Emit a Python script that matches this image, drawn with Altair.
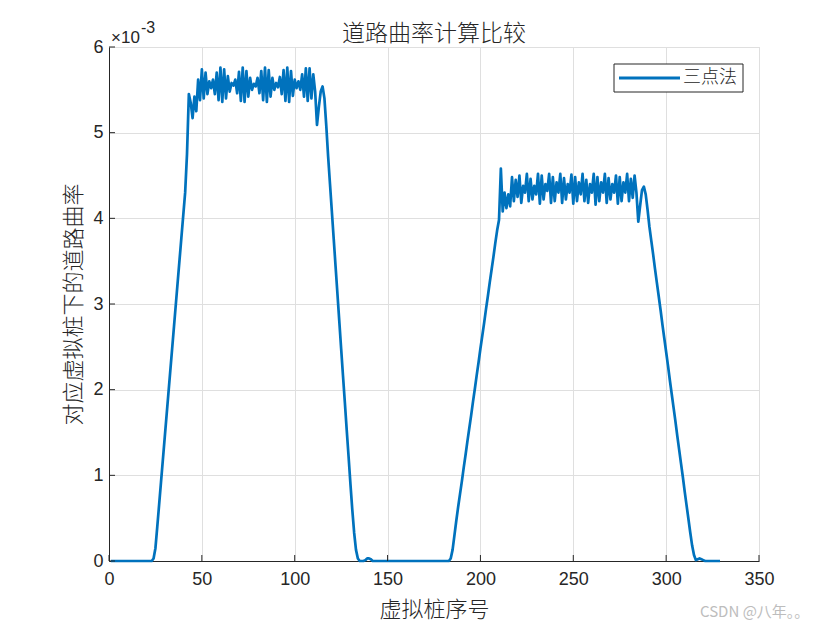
import altair as alt
import pandas as pd

series_name = "三点法"
title_text = "道路曲率计算比较"
x_title = "虚拟桩序号"
y_title = "对应虚拟桩下的道路曲率"
x_ticks = [0, 50, 100, 150, 200, 250, 300, 350]
y_ticks = [0, 1, 2, 3, 4, 5, 6]
exponent_base = "×10"
exponent_power = "-3"
watermark = "CSDN @八年。。"

# road curvature (units of 1e-3) for virtual piles 1, 2, 3, ...
curv_1_50 = [
    0, 0, 0, 0, 0, 0, 0, 0, 0, 0,
    0, 0, 0, 0, 0, 0, 0, 0, 0, 0,
    0, 0, 0.0, 0.03, 0.15, 0.4, 0.66, 0.92, 1.18, 1.44,
    1.7, 1.96, 2.22, 2.48, 2.74, 3.0, 3.26, 3.52, 3.78, 4.04,
    4.3, 4.75, 5.45, 5.35, 5.17, 5.42, 5.25, 5.62, 5.38, 5.74,
]
curv_51_110 = [
    5.4, 5.7, 5.45, 5.6, 5.52, 5.62, 5.45, 5.7, 5.38, 5.76,
    5.36, 5.74, 5.4, 5.66, 5.48, 5.58, 5.55, 5.62, 5.46, 5.71,
    5.37, 5.76, 5.36, 5.72, 5.42, 5.64, 5.5, 5.57, 5.54, 5.64,
    5.46, 5.72, 5.38, 5.76, 5.36, 5.73, 5.42, 5.64, 5.5, 5.58,
    5.53, 5.65, 5.45, 5.73, 5.37, 5.76, 5.36, 5.72, 5.43, 5.62,
    5.52, 5.6, 5.5, 5.68, 5.42, 5.75, 5.37, 5.75, 5.4, 5.68,
]
curv_111_180 = [
    5.48, 5.09, 5.3, 5.48, 5.54, 5.4, 5.08, 4.72, 4.4, 4.08,
    3.76, 3.44, 3.12, 2.8, 2.48, 2.16, 1.85, 1.53, 1.22, 0.9,
    0.6, 0.33, 0.13, 0.03, 0, 0, 0, 0.01, 0.03, 0.03,
    0.02, 0, 0, 0, 0, 0, 0, 0, 0, 0,
    0, 0, 0, 0, 0, 0, 0, 0, 0, 0,
    0, 0, 0, 0, 0, 0, 0, 0, 0, 0,
    0, 0, 0, 0, 0, 0, 0, 0, 0, 0,
]
curv_181_250 = [
    0, 0, 0, 0.03, 0.13, 0.3, 0.47, 0.63, 0.78, 0.93,
    1.09, 1.24, 1.4, 1.55, 1.7, 1.86, 2.01, 2.17, 2.32, 2.48,
    2.63, 2.78, 2.94, 3.09, 3.25, 3.4, 3.55, 3.71, 3.86, 3.98,
    4.58, 4.08, 4.3, 4.12, 4.28, 4.14, 4.48, 4.2, 4.45, 4.25,
    4.5, 4.18, 4.38, 4.3, 4.52, 4.2, 4.46, 4.22, 4.38, 4.28,
    4.52, 4.17, 4.5, 4.22, 4.4, 4.32, 4.52, 4.18, 4.48, 4.2,
    4.42, 4.3, 4.52, 4.18, 4.47, 4.22, 4.4, 4.3, 4.51, 4.17,
]
curv_251_329 = [
    4.48, 4.2, 4.42, 4.28, 4.52, 4.2, 4.45, 4.18, 4.4, 4.3,
    4.52, 4.16, 4.48, 4.2, 4.42, 4.3, 4.52, 4.18, 4.47, 4.22,
    4.4, 4.3, 4.5, 4.17, 4.48, 4.2, 4.42, 4.3, 4.52, 4.2,
    4.46, 4.24, 4.5, 4.3, 3.96, 4.15, 4.33, 4.37, 4.28, 4.1,
    3.9, 3.74, 3.58, 3.41, 3.25, 3.09, 2.93, 2.76, 2.6, 2.44,
    2.28, 2.11, 1.95, 1.79, 1.63, 1.46, 1.3, 1.14, 0.98, 0.81,
    0.65, 0.49, 0.33, 0.18, 0.07, 0.01, 0.02, 0.03, 0.02, 0.01,
    0, 0, 0, 0, 0, 0, 0, 0, 0,
]

curv = curv_1_50 + curv_51_110 + curv_111_180 + curv_181_250 + curv_251_329
pile = list(range(1, len(curv) + 1))

df = pd.DataFrame({"pile": pile, "curv": curv})

W, H = 650, 514
INK = "#262626"
GRID = "#dfdfdf"
BLUE = "#0072BD"
LAT = "Liberation Sans"
CJK = "Noto Sans CJK SC"

x_scale = alt.Scale(domain=[0, 350], nice=False, zero=False)
y_scale = alt.Scale(domain=[0, 6], nice=False, zero=False)

x_axis = alt.Axis(
    values=x_ticks, title=x_title, grid=True, gridColor=GRID, ticks=False,
    domainColor=INK, labelFont=LAT, labelFontSize=18, labelColor=INK,
    labelPadding=9, labelFlush=False, titleFont=CJK, titleFontSize=22,
    titleFontWeight=300, titleColor=INK, titleY=55, titleBaseline="alphabetic")
y_axis = alt.Axis(
    values=y_ticks, title=y_title, grid=True, gridColor=GRID, ticks=False,
    domainColor=INK, labelFont=LAT, labelFontSize=18, labelColor=INK,
    labelPadding=6, labelFlush=False, titleFont=CJK, titleFontSize=22,
    titleFontWeight=300, titleColor=INK, titleX=-36, titleBaseline="middle")

line = alt.Chart(df).mark_line(strokeWidth=2.7, strokeJoin="round", color=BLUE).encode(
    x=alt.X("pile:Q", scale=x_scale, axis=x_axis),
    y=alt.Y("curv:Q", scale=y_scale, axis=y_axis),
)

xt = alt.Chart(pd.DataFrame({"pile": x_ticks})).mark_rule(color=INK, strokeWidth=1).encode(
    x=alt.X("pile:Q", scale=x_scale, axis=x_axis), y=alt.value(H), y2=alt.value(H - 6))
yt = alt.Chart(pd.DataFrame({"curv": y_ticks})).mark_rule(color=INK, strokeWidth=1).encode(
    y=alt.Y("curv:Q", scale=y_scale, axis=y_axis), x=alt.value(0), x2=alt.value(6))

title_mark = alt.Chart(pd.DataFrame({"s": [title_text]})).mark_text(
    font=CJK, fontSize=23, fontWeight=300, color=INK, align="center", baseline="alphabetic").encode(
    x=alt.value(W / 2), y=alt.value(-6), text="s:N")
exp_base = alt.Chart(pd.DataFrame({"s": [exponent_base]})).mark_text(
    font=LAT, fontSize=17, color=INK, align="left", baseline="alphabetic").encode(
    x=alt.value(2), y=alt.value(-4), text="s:N")
exp_pow = alt.Chart(pd.DataFrame({"s": [exponent_power]})).mark_text(
    font=LAT, fontSize=16, color=INK, align="left", baseline="alphabetic").encode(
    x=alt.value(32), y=alt.value(-14), text="s:N")
wm = alt.Chart(pd.DataFrame({"s": [watermark]})).mark_text(
    font=CJK, fontSize=15, color="#bdbdbd", align="left", baseline="alphabetic").encode(
    x=alt.value(591), y=alt.value(570), text="s:N")

# legend box (manual, MATLAB style)
leg_box = alt.Chart(pd.DataFrame({"s": [series_name]})).mark_rect(
    fill="white", stroke=INK, strokeWidth=1).encode(
    x=alt.value(505), x2=alt.value(634), y=alt.value(17), y2=alt.value(45))
leg_line = alt.Chart(pd.DataFrame({"s": [series_name]})).mark_rule(
    color=BLUE, strokeWidth=3).encode(
    x=alt.value(510), x2=alt.value(571), y=alt.value(31))
leg_text = alt.Chart(pd.DataFrame({"s": [series_name]})).mark_text(
    font=CJK, fontSize=18, fontWeight=300, color=INK, align="left", baseline="middle").encode(
    x=alt.value(574), y=alt.value(31), text="s:N")

chart = alt.layer(line, xt, yt, title_mark, exp_base, exp_pow, wm,
                  leg_box, leg_line, leg_text).properties(
    width=W, height=H,
    autosize=alt.AutoSizeParams(type="none"),
    padding={"left": 101, "top": 39, "right": 73, "bottom": 61},
).configure_view(strokeWidth=0).configure(background="white")

chart.save("out.html", embed_options={"renderer": "svg", "actions": False})
